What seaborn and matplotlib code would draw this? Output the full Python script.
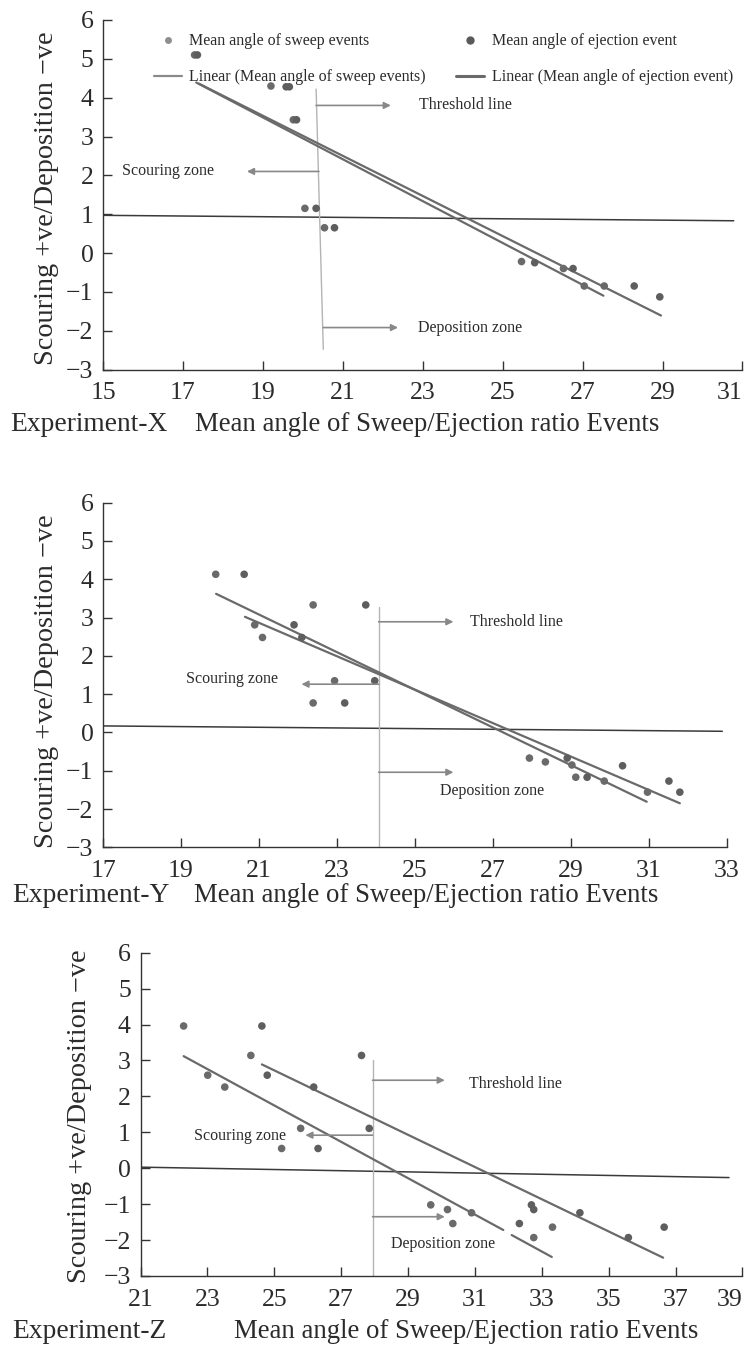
import numpy as np
import pandas as pd
import seaborn as sns
import matplotlib.pyplot as plt
from matplotlib.lines import Line2D

sns.set_theme(style="ticks")
plt.rcParams['font.family'] = ['Liberation Serif', 'DejaVu Serif']
plt.rcParams['axes.unicode_minus'] = True

# ---------------- data ----------------
# Experiment-X
x_sweep_X = [17.29, 19.20, 19.76, 20.05, 20.54, 25.47, 26.52, 27.04, 27.54]
y_sweep_X = [5.10, 4.30, 3.43, 1.15, 0.65, -0.22, -0.40, -0.85, -0.85]
x_eject_X = [17.36, 19.58, 19.66, 19.84, 20.33, 20.79, 25.80, 26.76, 28.29, 28.93]
y_eject_X = [5.10, 4.28, 4.28, 3.43, 1.15, 0.65, -0.25, -0.40, -0.85, -1.13]
trend_sweep_X_x = [17.33, 27.52]
trend_sweep_X_y = [4.39, -1.10]
trend_eject_X_x = [17.40, 28.96]
trend_eject_X_y = [4.36, -1.61]
zero_X_x = [15.0, 30.78]
zero_X_y = [0.97, 0.83]
thresh_X_x = [20.33, 20.51]
thresh_X_y = [4.22, -2.48]

# Experiment-Y
x_sweep_Y = [19.89, 22.39, 20.89, 21.09, 22.94, 22.39, 27.94, 28.35, 29.03, 29.13, 29.86, 30.97]
y_sweep_Y = [4.13, 3.33, 2.81, 2.48, 1.35, 0.77, -0.67, -0.77, -0.85, -1.17, -1.27, -1.56]
x_eject_Y = [20.62, 23.74, 21.90, 22.10, 23.97, 23.20, 28.91, 30.33, 29.42, 31.52, 31.80]
y_eject_Y = [4.13, 3.33, 2.81, 2.48, 1.35, 0.77, -0.67, -0.87, -1.17, -1.27, -1.56]
trend_sweep_Y_x = [19.90, 30.95]
trend_sweep_Y_y = [3.62, -1.81]
trend_eject_Y_x = [20.64, 31.80]
trend_eject_Y_y = [3.02, -1.85]
zero_Y_x = [17.0, 32.89]
zero_Y_y = [0.17, 0.03]
thresh_Y_x = [24.07, 24.07]
thresh_Y_y = [3.28, -3.0]

# Experiment-Z
x_sweep_Z = [22.29, 24.30, 23.01, 23.52, 25.79, 25.22, 29.68, 30.18, 30.34, 30.90, 32.76, 33.32]
y_sweep_Z = [3.96, 3.14, 2.59, 2.26, 1.11, 0.55, -1.02, -1.15, -1.54, -1.24, -1.93, -1.64]
x_eject_Z = [24.63, 27.61, 24.79, 26.18, 27.84, 26.31, 32.69, 32.76, 32.33, 34.14, 35.59, 36.66]
y_eject_Z = [3.96, 3.14, 2.59, 2.26, 1.11, 0.55, -1.02, -1.15, -1.54, -1.24, -1.93, -1.64]
trend_sweep_Z_x = [22.29, 31.85, 32.10, 33.30]
trend_sweep_Z_y = [3.12, -1.72, -1.86, -2.47]
trend_sweep_Z_seg = [0, 0, 1, 1]
trend_eject_Z_x = [24.63, 36.63]
trend_eject_Z_y = [2.89, -2.49]
zero_Z_x = [21.0, 38.6]
zero_Z_y = [0.03, -0.26]
thresh_Z_x = [27.94, 27.94]
thresh_Z_y = [3.01, -3.0]

y_ticks = [-3, -2, -1, 0, 1, 2, 3, 4, 5, 6]
x_ticks_X = [15, 17, 19, 21, 23, 25, 27, 29, 31]
x_ticks_Y = [17, 19, 21, 23, 25, 27, 29, 31, 33]
x_ticks_Z = [21, 23, 25, 27, 29, 31, 33, 35, 37, 39]

exp_names = ["Experiment-X", "Experiment-Y", "Experiment-Z"]
x_title = "Mean angle of Sweep/Ejection ratio Events"
y_title = "Scouring +ve/Deposition \u2212ve"
legend_labels = ["Mean angle of sweep events", "Linear (Mean angle of sweep events)",
                 "Mean angle of ejection event", "Linear (Mean angle of ejection event)"]

# ---------------- layout ----------------
W, H = 752, 1346
fig = plt.figure(figsize=(W / 100, H / 100), dpi=100)


def rect(left, right, top, bottom):
    return [left / W, 1 - bottom / H, (right - left) / W, (bottom - top) / H]


TXT = '#2b2b2b'
PT_SWEEP = '#6a6a6a'
PT_EJECT = '#5e5e5e'
TREND = '#6a6a6a'
ZERO = '#3a3a3a'
THRESH = '#b4b4b4'
ARROW = '#888888'
TICK = 18.5
YLAB = 20.3
XLAB = 19.3
SMALL = 11.5

panels = [
    dict(rect=rect(103.1, 742.5, 20, 369.5), xlim=(15, 31), xt=x_ticks_X, last_right=True,
         sx=x_sweep_X, sy=y_sweep_X, ex=x_eject_X, ey=y_eject_X,
         ts=(trend_sweep_X_x, trend_sweep_X_y, [0, 0]),
         te=(trend_eject_X_x, trend_eject_X_y),
         zero=(zero_X_x, zero_X_y), th=(thresh_X_x, thresh_X_y),
         arr_th=((20.33, 3.80), (22.20, 3.80)), txt_th=(22.90, 3.80),
         arr_sc=((20.40, 2.10), (18.60, 2.10)), txt_sc=(15.47, 2.10),
         arr_de=((20.51, -1.92), (22.38, -1.92)), txt_de=(22.88, -1.92),
         ylab=(47, 198), xlab_y=431, exp_x=10, title_x=195),
    dict(rect=rect(103.1, 726.6, 502.7, 847.3), xlim=(17, 33), xt=x_ticks_Y, last_right=False,
         sx=x_sweep_Y, sy=y_sweep_Y, ex=x_eject_Y, ey=y_eject_Y,
         ts=(trend_sweep_Y_x, trend_sweep_Y_y, [0, 0]),
         te=(trend_eject_Y_x, trend_eject_Y_y),
         zero=(zero_Y_x, zero_Y_y), th=(thresh_Y_x, thresh_Y_y),
         arr_th=((24.07, 2.89), (25.99, 2.89)), txt_th=(26.42, 2.89),
         arr_sc=((24.07, 1.26), (22.09, 1.26)), txt_sc=(19.13, 1.40),
         arr_de=((24.07, -1.04), (25.99, -1.04)), txt_de=(25.65, -1.52),
         ylab=(47, 681), xlab_y=902, exp_x=12, title_x=194),
    dict(rect=rect(140.5, 742.4, 952.7, 1276), xlim=(21, 39), xt=x_ticks_Z, last_right=True,
         sx=x_sweep_Z, sy=y_sweep_Z, ex=x_eject_Z, ey=y_eject_Z,
         ts=(trend_sweep_Z_x, trend_sweep_Z_y, trend_sweep_Z_seg),
         te=(trend_eject_Z_x, trend_eject_Z_y),
         zero=(zero_Z_x, zero_Z_y), th=(thresh_Z_x, thresh_Z_y),
         arr_th=((27.94, 2.45), (30.10, 2.45)), txt_th=(30.82, 2.35),
         arr_sc=((27.94, 0.92), (25.93, 0.92)), txt_sc=(22.60, 0.90),
         arr_de=((27.94, -1.35), (30.10, -1.35)), txt_de=(28.49, -2.10),
         ylab=(80, 1116), xlab_y=1338, exp_x=12, title_x=233.6),
]

for i, p in enumerate(panels):
    ax = fig.add_axes(p['rect'])
    # zero line (nearly horizontal)
    sns.lineplot(x=p['zero'][0], y=p['zero'][1], ax=ax, color=ZERO, lw=1.1,
                 estimator=None, sort=False)
    # threshold line
    sns.lineplot(x=p['th'][0], y=p['th'][1], ax=ax, color=THRESH, lw=1.0,
                 estimator=None, sort=False)
    # trend lines
    ts = pd.DataFrame({'x': p['ts'][0], 'y': p['ts'][1], 'seg': p['ts'][2]})
    sns.lineplot(data=ts, x='x', y='y', units='seg', ax=ax, color=TREND, lw=1.6,
                 estimator=None, sort=False)
    sns.lineplot(x=p['te'][0], y=p['te'][1], ax=ax, color=TREND, lw=1.6,
                 estimator=None, sort=False)
    # points
    sns.scatterplot(x=p['sx'], y=p['sy'], ax=ax, color=PT_SWEEP, s=30,
                    edgecolor='none', legend=False, zorder=3)
    sns.scatterplot(x=p['ex'], y=p['ey'], ax=ax, color=PT_EJECT, s=30,
                    edgecolor='none', legend=False, zorder=3)
    # arrows + zone labels
    for a, t, lab in [(p['arr_th'], p['txt_th'], 'Threshold line'),
                      (p['arr_sc'], p['txt_sc'], 'Scouring zone'),
                      (p['arr_de'], p['txt_de'], 'Deposition zone')]:
        ax.annotate('', xy=a[1], xytext=a[0],
                    arrowprops=dict(arrowstyle='-|>', color=ARROW, lw=1.2,
                                    mutation_scale=10, shrinkA=0, shrinkB=0))
        ax.text(t[0], t[1], lab, fontsize=SMALL, color=TXT, ha='left', va='center')

    ax.set_xlim(*p['xlim'])
    ax.set_ylim(-3, 6)
    ax.set_xticks(p['xt'])
    ax.set_yticks(y_ticks)
    ax.set_xlabel('')
    ax.set_ylabel('')
    sns.despine(ax=ax)
    for s in ['left', 'bottom']:
        ax.spines[s].set_color('#333333')
        ax.spines[s].set_linewidth(1.0)
    ax.tick_params(axis='both', direction='in', length=6.5, width=1.0,
                   color='#333333', labelsize=TICK, labelcolor=TXT)
    ax.tick_params(axis='x', pad=9)
    ax.tick_params(axis='y', pad=7)
    ax.set_facecolor('white')
    if p['last_right']:
        ax.get_xticklabels()[-1].set_horizontalalignment('right')

    # axis titles
    fig.text(p['ylab'][0] / W, 1 - p['ylab'][1] / H, y_title, rotation=90,
             ha='center', va='center', fontsize=YLAB, color=TXT)
    fig.text(p['exp_x'] / W, 1 - p['xlab_y'] / H, exp_names[i],
             ha='left', va='baseline', fontsize=XLAB + 0.5, color=TXT)
    fig.text(p['title_x'] / W, 1 - p['xlab_y'] / H, x_title,
             ha='left', va='baseline', fontsize=XLAB, color=TXT)

    if i == 0:
        handles = [
            Line2D([], [], ls='none', marker='o', ms=5, color='#8e8e8e', mec='none'),
            Line2D([], [], color='#8a8a8a', lw=1.6),
            Line2D([], [], ls='none', marker='o', ms=6, color='#5a5a5a', mec='none'),
            Line2D([], [], color='#6a6a6a', lw=2.2),
        ]
        ax.legend(handles, legend_labels, ncol=2, loc='upper left',
                  bbox_to_anchor=(0.080, 0.962), frameon=False, fontsize=SMALL,
                  handlelength=1.75, handletextpad=0.45, columnspacing=1.9,
                  labelspacing=1.25, borderpad=0, borderaxespad=0,
                  labelcolor=TXT)

fig.savefig('out.png', dpi=100)
